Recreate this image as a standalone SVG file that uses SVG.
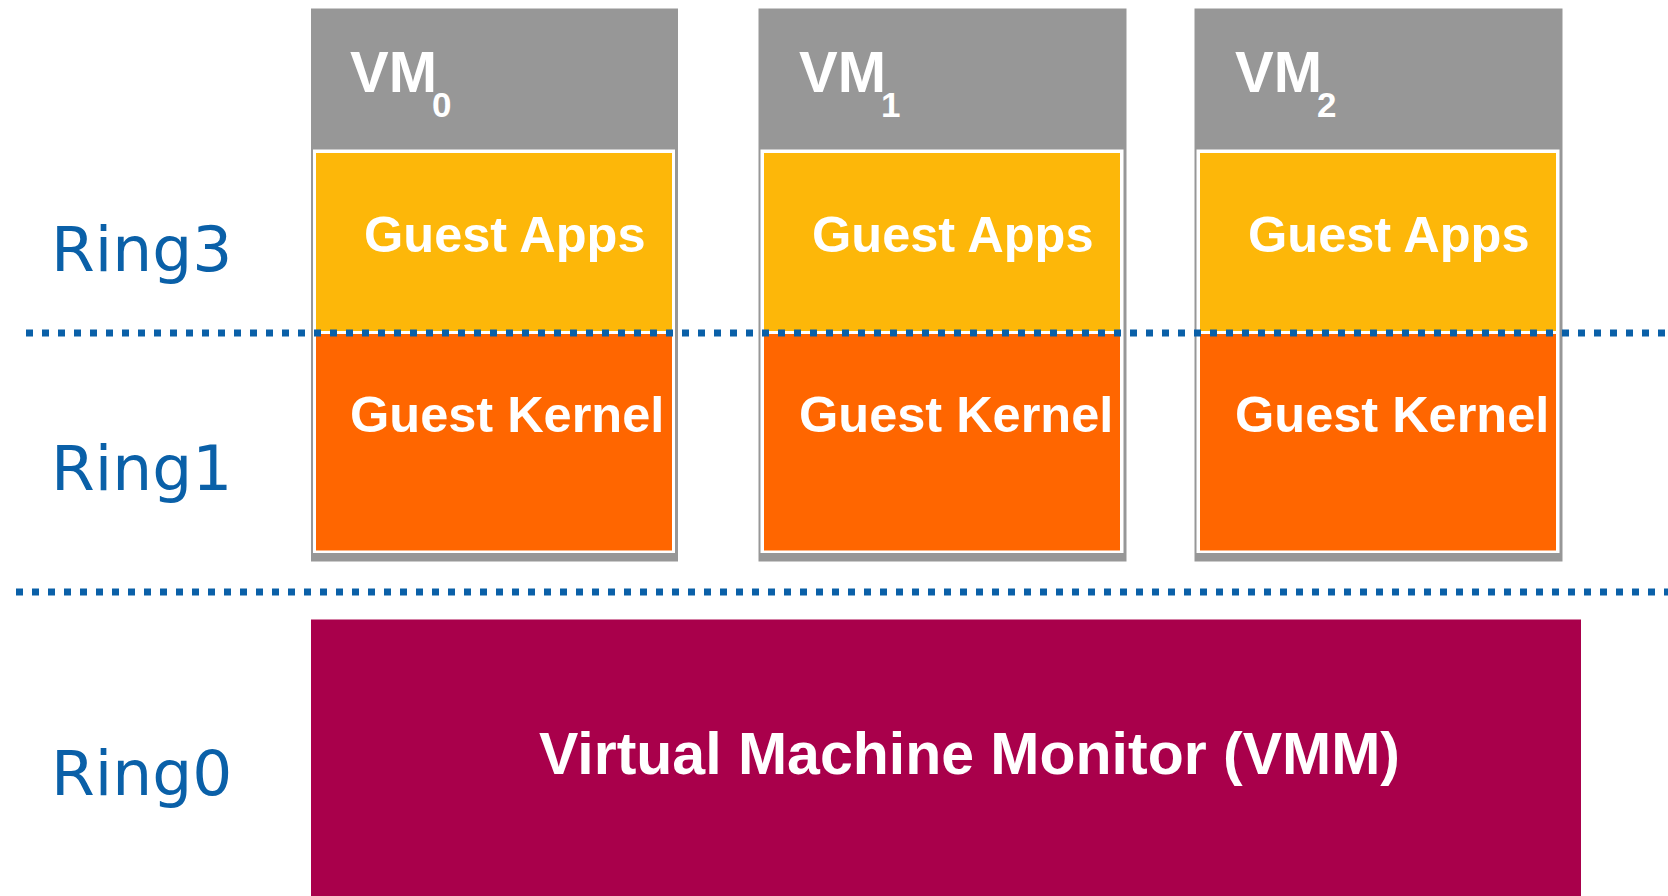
<svg xmlns="http://www.w3.org/2000/svg" width="1668" height="896" viewBox="0 0 1668 896">
  <style>
    .vm-frame { fill: #979797; }
    .vm-inner { fill: #ffffff; }
    .apps { fill: #fdb709; }
    .kernel { fill: #ff6600; }
    .vmm { fill: #a9004b; }
    .label { font-family: "Liberation Sans", Arial, sans-serif; font-weight: bold; fill: #ffffff; }
    .sub { font-size: 35px; }
    .ring { font-family: "DejaVu Sans", Verdana, sans-serif; font-size: 63px; fill: #0a60a8; }
    .level { stroke: #0a60a8; stroke-width: 7; stroke-dasharray: 7 9; fill: none; }
  </style>

  <!-- privilege ring labels -->
  <g id="ring-labels">
    <text class="ring" x="51" y="271">Ring3</text>
    <text class="ring" x="51" y="490">Ring1</text>
    <text class="ring" x="51" y="795">Ring0</text>
  </g>

  <!-- guest VM0 -->
  <g id="vm0">
    <rect class="vm-frame" x="311" y="8.5" width="367" height="553"/>
    <rect class="vm-inner" x="313" y="149.5" width="362" height="403.5"/>
    <rect class="apps" x="316" y="153" width="356" height="178"/>
    <rect class="kernel" x="316" y="334" width="356" height="216.5"/>
    <text class="label" x="350" y="92" font-size="58">VM<tspan class="sub" dx="-5" dy="25">0</tspan></text>
    <text class="label" x="364" y="252" font-size="50.5">Guest Apps</text>
    <text class="label" x="350" y="432" font-size="50.5">Guest Kernel</text>
  </g>

  <!-- guest VM1 -->
  <g id="vm1">
    <rect class="vm-frame" x="758.5" y="8.5" width="368" height="553"/>
    <rect class="vm-inner" x="760.5" y="149.5" width="363" height="403.5"/>
    <rect class="apps" x="764" y="153" width="356" height="178"/>
    <rect class="kernel" x="764" y="334" width="356" height="216.5"/>
    <text class="label" x="799" y="92" font-size="58">VM<tspan class="sub" dx="-5" dy="25">1</tspan></text>
    <text class="label" x="812" y="252" font-size="50.5">Guest Apps</text>
    <text class="label" x="799" y="432" font-size="50.5">Guest Kernel</text>
  </g>

  <!-- guest VM2 -->
  <g id="vm2">
    <rect class="vm-frame" x="1194.5" y="8.5" width="368" height="553"/>
    <rect class="vm-inner" x="1196.5" y="149.5" width="363" height="403.5"/>
    <rect class="apps" x="1200" y="153" width="356" height="178"/>
    <rect class="kernel" x="1200" y="334" width="356" height="216.5"/>
    <text class="label" x="1235" y="92" font-size="58">VM<tspan class="sub" dx="-5" dy="25">2</tspan></text>
    <text class="label" x="1248" y="252" font-size="50.5">Guest Apps</text>
    <text class="label" x="1235" y="432" font-size="50.5">Guest Kernel</text>
  </g>

  <!-- hypervisor -->
  <g id="vmm">
    <rect class="vmm" x="311" y="619.5" width="1270" height="277"/>
    <text class="label" x="539" y="774" font-size="59">Virtual Machine Monitor (VMM)</text>
  </g>

  <!-- ring boundaries -->
  <g id="connectors">
    <line class="level" x1="26" y1="333" x2="1668" y2="333"/>
    <line class="level" x1="16" y1="592" x2="1668" y2="592"/>
  </g>
</svg>
